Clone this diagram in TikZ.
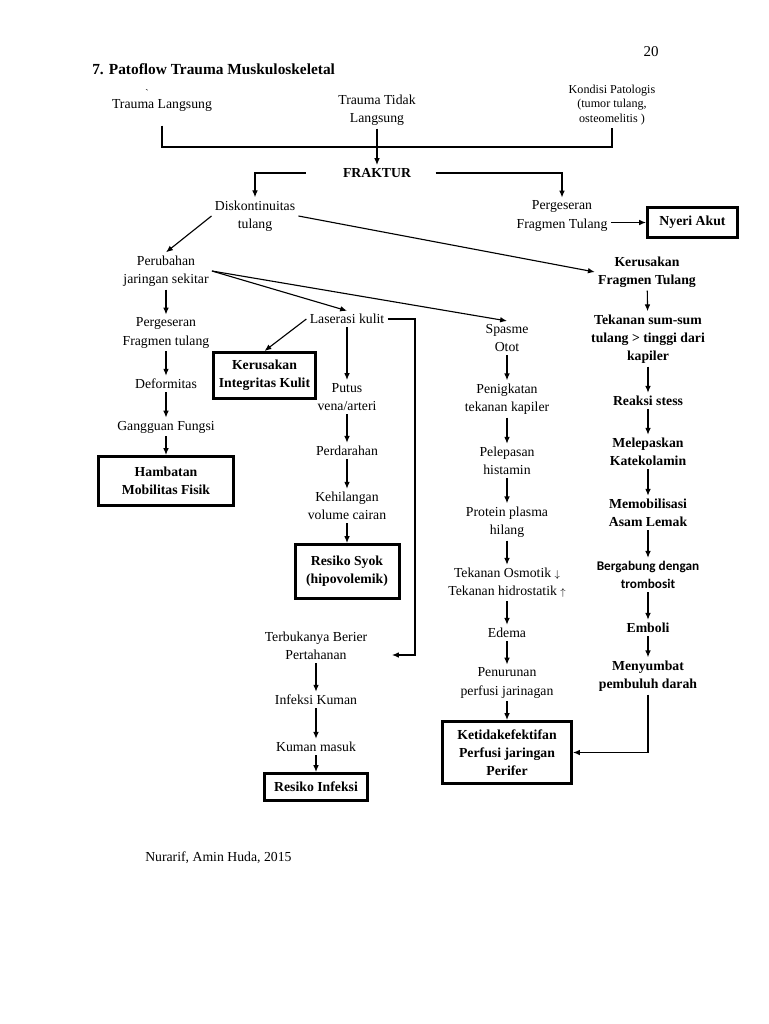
\documentclass[tikz,border=0pt]{standalone}
\usepackage{fontspec}
\setmainfont{Liberation Serif}
\newfontfamily\calibri{Carlito}
\usetikzlibrary{arrows.meta}

\tikzset{
    txt/.style={align=center, inner sep=2.5pt, font=\fontsize{11}{14.5}\selectfont},
    btxt/.style={txt, font=\fontsize{11}{14.5}\selectfont\bfseries},
    diag/.style={draw, line width=2.4pt, align=center, inner sep=0pt, font=\fontsize{11}{14.5}\selectfont\bfseries},
    flow/.style={-{Latex[length=5.5pt,width=4.5pt]}, line width=0.9pt},
}

\begin{document}
\begin{tikzpicture}[x=0.8pt,y=-0.8pt]
        \useasboundingbox (0,0) rectangle (768,1024);
        \fill [white] (0,0) rectangle (768,1024);

        \begin{scope}
            \node [txt, font=\fontsize{12}{14}\selectfont] (page) at (651,52) {20};
            \node [btxt, anchor=west, inner sep=0pt, font=\fontsize{12.3}{15}\selectfont\bfseries] (title) at (92,69) {7. Patoflow Trauma Muskuloskeletal};
            \node [txt, inner sep=0pt, font=\fontsize{8}{8}\selectfont] (tick) at (147,93) {\textasciigrave};

            \node [txt] (tl) at (162,105) {Trauma Langsung};
            \node [txt] (tt) at (377,110) {Trauma Tidak\\Langsung};
            \node [txt, font=\fontsize{9.7}{11.6}\selectfont] (kd) at (612,105) {Kondisi Patologis\\(tumor tulang,\\osteomelitis )};
            \node [btxt] (fr) at (377,173) {FRAKTUR};

            \node [txt] (dk) at (255,216) {Diskontinuitas\\tulang};
            \node [txt] (pg) at (562,216) {Pergeseran\\Fragmen Tulang};
            \node [diag, minimum width=72pt, minimum height=24pt] (ny) at (692.5,222.5) {Nyeri Akut};

            \node [txt] (pj) at (166,271) {Perubahan\\jaringan sekitar};
            \node [btxt] (kf) at (647,272) {Kerusakan\\Fragmen Tulang};

            % kolom kiri
            \node [txt] (pft) at (166,333) {Pergeseran\\Fragmen tulang};
            \node [txt] (df) at (166,384) {Deformitas};
            \node [txt] (gf) at (166,427) {Gangguan Fungsi};
            \node [diag, minimum width=108pt, minimum height=39.2pt] (hm) at (166,481) {Hambatan\\Mobilitas Fisik};

            % kolom laserasi
            \node [txt] (lk) at (347,319) {Laserasi kulit};
            \node [diag, minimum width=81.6pt, minimum height=36.8pt] (ki) at (264.5,375.5) {Kerusakan\\Integritas Kulit};
            \node [txt] (pv) at (347,397) {Putus\\vena/arteri};
            \node [txt] (pd) at (347,451) {Perdarahan};
            \node [txt] (kv) at (347,506) {Kehilangan\\volume cairan};
            \node [diag, minimum width=83.2pt, minimum height=43.2pt] (rs) at (347,571.5) {Resiko Syok\\(hipovolemik)};
            \node [txt] (tb) at (316,646) {Terbukanya Berier\\Pertahanan};
            \node [txt] (ik) at (316,700) {Infeksi Kuman};
            \node [txt] (km) at (316,747) {Kuman masuk};
            \node [diag, minimum width=82.4pt, minimum height=21.6pt] (ri) at (316,787) {Resiko Infeksi};

            % kolom spasme
            \node [txt] (sp) at (507,338) {Spasme\\Otot};
            \node [txt] (pk) at (507,399) {Penigkatan\\tekanan kapiler};
            \node [txt] (ph) at (507,461) {Pelepasan\\histamin};
            \node [txt] (pp) at (507,522) {Protein plasma\\hilang};
            \node [txt] (to) at (507,583) {Tekanan Osmotik {\footnotesize$\downarrow$}\\Tekanan hidrostatik {\footnotesize$\uparrow$}};
            \node [txt] (ed) at (507,633) {Edema};
            \node [txt] (pf) at (507,683) {Penurunan\\perfusi jarinagan};
            \node [diag, minimum width=103.2pt, minimum height=49.6pt] (kpj) at (507,752.5) {Ketidakefektifan\\Perfusi jaringan\\Perifer};

            % kolom kanan
            \node [btxt] (ts) at (648,339) {Tekanan sum-sum\\tulang > tinggi dari\\kapiler};
            \node [btxt] (rk) at (648,401) {Reaksi stess};
            \node [btxt] (mk) at (648,452) {Melepaskan\\Katekolamin};
            \node [btxt] (ma) at (648,513) {Memobilisasi\\Asam Lemak};
            \node [txt, font=\fontsize{10.6}{14.5}\calibri\bfseries] (bg) at (648,575) {Bergabung dengan\\trombosit};
            \node [btxt] (eb) at (648,628) {Emboli};
            \node [btxt] (ms) at (648,676) {Menyumbat\\pembuluh darah};

            \node [txt, anchor=west, inner sep=0pt] (src) at (145,858) {Nurarif, Amin Huda, 2015};

            \coordinate (jn) at (377,147);
            \coordinate (rb) at (415,655);
            \coordinate (tbin) at (392,655);

            \draw [line width=0.9pt] ([yshift=-9pt]tl.south) |- (jn) -| (kd.south);
            \draw [flow] (tt) -- (fr);
            \draw [flow] ([xshift=-27pt]fr.west) -| (dk);
            \draw [flow] ([xshift=17pt]fr.east) -| (pg);
            \draw [flow] (pg.east |- ny) -- (ny.west);
            \draw [flow] (dk.west) -- (pj.north);
            \draw [flow] (dk.east) -- (kf.west);
            \draw [flow] (pj.east) -- (lk.north);
            \draw [flow] (pj.east) -- (sp.north);
            \draw [flow] (lk.west) -- (ki.north);
            \draw [flow] (lk.east) -| (rb) -- (tbin);
            \draw [flow] (ms.south) |- (kpj.east);

            \foreach \a/\b in {pj/pft, pft/df, df/gf, gf/hm,
                    lk/pv, pv/pd, pd/kv, kv/rs, tb/ik, ik/km, km/ri,
                    sp/pk, pk/ph, ph/pp, pp/to, to/ed, ed/pf, pf/kpj,
                    kf/ts, ts/rk, rk/mk, mk/ma, ma/bg, bg/eb, eb/ms}
                \draw [flow] (\a) -- (\b);
        \end{scope}
    \end{tikzpicture}
\end{document}
